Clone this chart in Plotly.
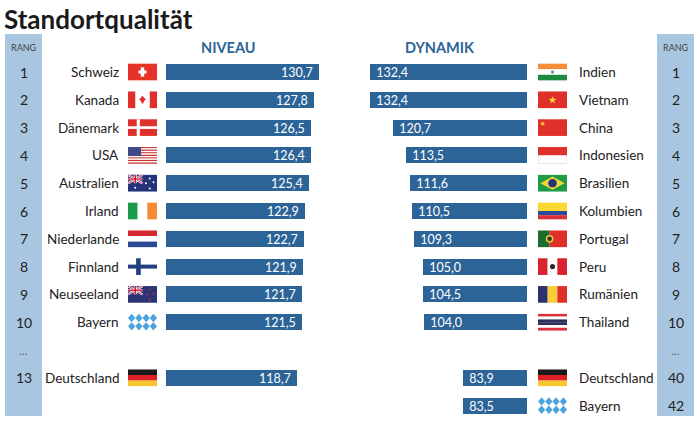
import math
import plotly.graph_objects as go

# ---------------- data ----------------
niveau_countries = ["Schweiz", "Kanada", "Dänemark", "USA", "Australien", "Irland",
                    "Niederlande", "Finnland", "Neuseeland", "Bayern", "Deutschland"]
niveau_values = [130.7, 127.8, 126.5, 126.4, 125.4, 122.9, 122.7, 121.9, 121.7, 121.5, 118.7]
niveau_ranks = [1, 2, 3, 4, 5, 6, 7, 8, 9, 10, 13]

dynamik_countries = ["Indien", "Vietnam", "China", "Indonesien", "Brasilien", "Kolumbien",
                     "Portugal", "Peru", "Rumänien", "Thailand", "Deutschland", "Bayern"]
dynamik_values = [132.4, 132.4, 120.7, 113.5, 111.6, 110.5, 109.3, 105.0, 104.5, 104.0, 83.9, 83.5]
dynamik_ranks = [1, 2, 3, 4, 5, 6, 7, 8, 9, 10, 40, 42]

title = "Standortqualität"
header_left = "NIVEAU"
header_right = "DYNAMIK"
rank_label = "RANG"
bar_base = 50

# ---------------- styling ----------------
W, H = 700, 425
FONT = "Lato"
BAR = "#2c6497"
RANKBG = "#a9c6e0"
TXT = "#222222"
ROW0_PX, ROW_PX = 72, 27.8
NB = "\u00a0"


def rows_for(n):
    # top ten consecutive, remaining after a one-row gap ("...")
    return [i if i < 10 else i + 1 for i in range(n)]


left_rows = rows_for(len(niveau_values))
right_rows = rows_for(len(dynamik_values))
fmt = lambda v: f"{v:.1f}".replace(".", ",")

fig = go.Figure()
fig.add_trace(go.Bar(
    y=left_rows, x=[v - bar_base for v in niveau_values], base=bar_base,
    orientation="h", marker=dict(color=BAR, line=dict(width=0)), width=0.58,
    text=[fmt(v) + NB for v in niveau_values], textposition="inside",
    insidetextanchor="end", textfont=dict(color="white", size=12.5, family=FONT),
    constraintext="none", xaxis="x", yaxis="y", hoverinfo="skip"))
fig.add_trace(go.Bar(
    y=right_rows, x=[v - bar_base for v in dynamik_values], base=bar_base,
    orientation="h", marker=dict(color=BAR, line=dict(width=0)), width=0.58,
    text=[NB + fmt(v) for v in dynamik_values], textposition="inside",
    insidetextanchor="end", textfont=dict(color="white", size=12.5, family=FONT),
    constraintext="none", xaxis="x2", yaxis="y", hoverinfo="skip"))

SCALE = 1.9  # px per unit
LX0, LX1 = 166, 345
RX0, RX1 = 355, 527
y_top = -ROW0_PX / ROW_PX
y_bot = (H - ROW0_PX) / ROW_PX

shapes = []
annotations = []

# rank columns
for x0, x1 in [(5, 42), (657, 694)]:
    shapes.append(dict(type="rect", xref="paper", yref="paper", x0=x0 / W, x1=x1 / W,
                       y0=1 - 416 / H, y1=1 - 34 / H, fillcolor=RANKBG, line=dict(width=0),
                       layer="below"))

# ---------------- flags ----------------
FW, FH = 29, 0.6


def P(X, row, fx, fy):
    return (X + fx * FW) / W, row - FH / 2 + fy * FH


def rect(X, row, fx0, fy0, fx1, fy1, color):
    x0, y0 = P(X, row, fx0, fy0)
    x1, y1 = P(X, row, fx1, fy1)
    return dict(type="rect", xref="paper", yref="y", x0=x0, x1=x1, y0=y0, y1=y1,
                fillcolor=color, line=dict(width=0))


def circ(X, row, cx, cy, rx, ry, color):
    x0, y0 = P(X, row, cx - rx, cy - ry)
    x1, y1 = P(X, row, cx + rx, cy + ry)
    return dict(type="circle", xref="paper", yref="y", x0=x0, x1=x1, y0=y0, y1=y1,
                fillcolor=color, line=dict(width=0))


def poly(X, row, pts, color):
    s = ""
    for i, (fx, fy) in enumerate(pts):
        x, y = P(X, row, fx, fy)
        s += ("M" if i == 0 else "L") + f"{x:.5f},{y:.5f} "
    return dict(type="path", xref="paper", yref="y", path=s + "Z",
                fillcolor=color, line=dict(width=0))


def line(X, row, fx0, fy0, fx1, fy1, color, w):
    x0, y0 = P(X, row, fx0, fy0)
    x1, y1 = P(X, row, fx1, fy1)
    return dict(type="line", xref="paper", yref="y", x0=x0, x1=x1, y0=y0, y1=y1,
                line=dict(color=color, width=w))


def star(X, row, cx, cy, r, color):
    pts = []
    for k in range(10):
        a = -math.pi / 2 + k * math.pi / 5
        rr = r if k % 2 == 0 else r * 0.42
        pts.append((cx + rr * math.cos(a) * (17 / 29), cy + rr * math.sin(a)))
    return poly(X, row, pts, color)


def hstripes(X, row, colors):
    n = len(colors)
    return [rect(X, row, 0, i / n, 1, (i + 1) / n, c) for i, c in enumerate(colors)]


def vstripes(X, row, colors):
    n = len(colors)
    return [rect(X, row, i / n, 0, (i + 1) / n, 1, c) for i, c in enumerate(colors)]


def union_canton(X, row, bg):
    s = [rect(X, row, 0, 0, 0.5, 0.5, bg)]
    s.append(line(X, row, 0, 0, 0.5, 0.5, "white", 2.2))
    s.append(line(X, row, 0, 0.5, 0.5, 0, "white", 2.2))
    s.append(line(X, row, 0, 0, 0.5, 0.5, "#c8102e", 0.8))
    s.append(line(X, row, 0, 0.5, 0.5, 0, "#c8102e", 0.8))
    s.append(rect(X, row, 0.2, 0, 0.3, 0.5, "white"))
    s.append(rect(X, row, 0, 0.18, 0.5, 0.32, "white"))
    s.append(rect(X, row, 0.225, 0, 0.275, 0.5, "#c8102e"))
    s.append(rect(X, row, 0, 0.21, 0.5, 0.29, "#c8102e"))
    return s


def flag(name, X, row):
    s = []
    if name == "Schweiz":
        s.append(rect(X, row, 0, 0, 1, 1, "#e5332a"))
        s.append(rect(X, row, 0.36, 0.41, 0.64, 0.59, "white"))
        s.append(rect(X, row, 0.44, 0.22, 0.56, 0.78, "white"))
    elif name == "Kanada":
        s.append(rect(X, row, 0, 0, 1, 1, "white"))
        s.append(rect(X, row, 0, 0, 0.25, 1, "#e0302a"))
        s.append(rect(X, row, 0.75, 0, 1, 1, "#e0302a"))
        s.append(poly(X, row, [(0.5, 0.25), (0.62, 0.5), (0.56, 0.55), (0.52, 0.72),
                               (0.48, 0.72), (0.44, 0.55), (0.38, 0.5)], "#e0302a"))
    elif name == "Dänemark":
        s.append(rect(X, row, 0, 0, 1, 1, "#e0302a"))
        s.append(rect(X, row, 0, 0.42, 1, 0.58, "white"))
        s.append(rect(X, row, 0.3, 0, 0.41, 1, "white"))
    elif name == "USA":
        s += hstripes(X, row, ["#c8342f" if i % 2 == 0 else "white" for i in range(13)])
        s.append(rect(X, row, 0, 0, 0.45, 7 / 13, "#3d4a86"))
    elif name == "Australien":
        s.append(rect(X, row, 0, 0, 1, 1, "#24337a"))
        s += union_canton(X, row, "#24337a")
        for cx, cy in [(0.25, 0.78), (0.75, 0.22), (0.62, 0.5), (0.88, 0.45), (0.75, 0.82)]:
            s.append(circ(X, row, cx, cy, 0.035, 0.06, "white"))
    elif name == "Irland":
        s += vstripes(X, row, ["#1a9b4b", "white", "#f58b35"])
    elif name == "Niederlande":
        s += hstripes(X, row, ["#d42a2f", "white", "#2b4a93"])
    elif name == "Finnland":
        s.append(rect(X, row, 0, 0, 1, 1, "white"))
        s.append(rect(X, row, 0, 0.38, 1, 0.62, "#22407f"))
        s.append(rect(X, row, 0.28, 0, 0.44, 1, "#22407f"))
    elif name == "Neuseeland":
        s.append(rect(X, row, 0, 0, 1, 1, "#2a3475"))
        s += union_canton(X, row, "#2a3475")
        for cx, cy in [(0.75, 0.22), (0.65, 0.5), (0.88, 0.45), (0.75, 0.8)]:
            s.append(circ(X, row, cx, cy, 0.035, 0.06, "#d0243a"))
    elif name == "Bayern":
        s.append(rect(X, row, 0, 0, 1, 1, "white"))
        for j in range(2):
            for i in range(4):
                cx, cy = 0.125 + 0.25 * i, 0.25 + 0.5 * j
                s.append(poly(X, row, [(cx, cy - 0.25), (cx + 0.125, cy), (cx, cy + 0.25),
                                       (cx - 0.125, cy)], "#4aa3de"))
    elif name == "Deutschland":
        s += hstripes(X, row, ["#1a1a1a", "#dd1f26", "#f7c72f"])
    elif name == "Indien":
        s += hstripes(X, row, ["#f58d3a", "white", "#1e8a3c"])
        s.append(circ(X, row, 0.5, 0.5, 0.05, 0.09, "#6a6f9a"))
    elif name == "Vietnam":
        s.append(rect(X, row, 0, 0, 1, 1, "#e0302a"))
        s.append(star(X, row, 0.5, 0.52, 0.24, "#f7d439"))
    elif name == "China":
        s.append(rect(X, row, 0, 0, 1, 1, "#e0302a"))
        s.append(star(X, row, 0.16, 0.26, 0.16, "#f7d439"))
    elif name == "Indonesien":
        s.append(rect(X, row, 0, 0, 1, 1, "#dddddd"))
        s.append(rect(X, row, 0, 0, 1, 0.5, "#e0302a"))
        s.append(rect(X, row, 0.02, 0.5, 0.98, 0.96, "white"))
    elif name == "Brasilien":
        s.append(rect(X, row, 0, 0, 1, 1, "#1f9a45"))
        s.append(poly(X, row, [(0.5, 0.1), (0.92, 0.5), (0.5, 0.9), (0.08, 0.5)], "#f4d43a"))
        s.append(circ(X, row, 0.5, 0.5, 0.15, 0.25, "#25357a"))
    elif name == "Kolumbien":
        s.append(rect(X, row, 0, 0, 1, 0.5, "#f9d834"))
        s.append(rect(X, row, 0, 0.5, 1, 0.75, "#2d4b9a"))
        s.append(rect(X, row, 0, 0.75, 1, 1, "#d9323a"))
    elif name == "Portugal":
        s.append(rect(X, row, 0, 0, 0.4, 1, "#1e6b2f"))
        s.append(rect(X, row, 0.4, 0, 1, 1, "#e0302a"))
        s.append(circ(X, row, 0.4, 0.5, 0.13, 0.23, "#f2c933"))
        s.append(circ(X, row, 0.4, 0.5, 0.08, 0.14, "#333333"))
    elif name == "Peru":
        s += vstripes(X, row, ["#d9232e", "white", "#d9232e"])
        s.append(circ(X, row, 0.5, 0.5, 0.09, 0.16, "#2b2b2b"))
    elif name == "Rumänien":
        s += vstripes(X, row, ["#2b3272", "#f6cf36", "#e0302a"])
    elif name == "Thailand":
        s += hstripes(X, row, ["#d9323a", "white", "#2c2f5a", "#2c2f5a", "white", "#d9323a"])
    return s


for name, r in zip(niveau_countries, left_rows):
    shapes += flag(name, 128, r)
for name, r in zip(dynamik_countries, right_rows):
    shapes += flag(name, 538, r)

# ---------------- texts ----------------
def ann(text, x, y, xanchor="center", size=13.5, color=TXT, yref="y", bold=False, yanchor="middle"):
    annotations.append(dict(text=f"<b>{text}</b>" if bold else text, x=x / W, y=y,
                            xref="paper", yref=yref, xanchor=xanchor, yanchor=yanchor,
                            showarrow=False, font=dict(family=FONT, size=size, color=color)))


for name, r, rk in zip(niveau_countries, left_rows, niveau_ranks):
    ann(name, 121, r, "right")
    ann(str(rk), 23.5, r, "center", size=14)
for name, r, rk in zip(dynamik_countries, right_rows, dynamik_ranks):
    ann(name, 577, r, "left")
    ann(str(rk), 675.5, r, "center", size=14)

ann("...", 23.5, 10, size=12, color="#666666")
ann("...", 675.5, 10, size=12, color="#666666")
ann(rank_label, 23.5, 1 - 47 / H, size=9, color="#444444", yref="paper")
ann(rank_label, 675.5, 1 - 47 / H, size=9, color="#444444", yref="paper")
ann(header_left, 228, 1 - 47 / H, size=14.5, color=BAR, yref="paper", bold=True)
ann(header_right, 440, 1 - 47 / H, size=14.5, color=BAR, yref="paper", bold=True)
ann(title, 2, 1 - 1 / H, "left", size=26, color="#1a1a1a", yref="paper", bold=True, yanchor="top")

fig.update_layout(
    width=W, height=H, margin=dict(l=0, r=0, t=0, b=0),
    paper_bgcolor="white", plot_bgcolor="white", showlegend=False, bargap=0,
    font=dict(family=FONT),
    xaxis=dict(domain=[LX0 / W, LX1 / W], range=[bar_base, bar_base + (LX1 - LX0) / SCALE],
               visible=False, fixedrange=True),
    xaxis2=dict(domain=[RX0 / W, RX1 / W], range=[bar_base + (RX1 - RX0) / SCALE, bar_base],
                visible=False, fixedrange=True, anchor="y"),
    yaxis=dict(domain=[0, 1], range=[y_bot, y_top], visible=False, fixedrange=True),
    shapes=shapes, annotations=annotations,
)

fig.write_html("out.html", config={"displayModeBar": False},
               post_script="document.body.style.margin='0';document.body.style.overflow='hidden';")
